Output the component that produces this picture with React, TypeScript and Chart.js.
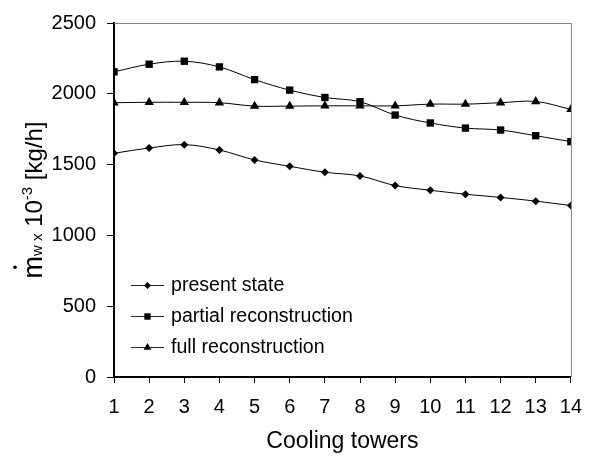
import React, { useEffect, useRef } from 'react';
import { Chart, registerables } from 'chart.js';

Chart.register(...registerables);

const towers = [1, 2, 3, 4, 5, 6, 7, 8, 9, 10, 11, 12, 13, 14];
const presentState = [1580, 1617, 1641, 1603, 1533, 1488, 1446, 1420, 1352, 1319, 1291, 1268, 1242, 1211];
const partialReconstruction = [2155, 2209, 2230, 2190, 2100, 2026, 1974, 1944, 1850, 1794, 1758, 1744, 1704, 1662];
const fullReconstruction = [1937, 1940, 1940, 1937, 1913, 1913, 1915, 1915, 1915, 1927, 1927, 1937, 1946, 1890];
const seriesLabels = ['present state', 'partial reconstruction', 'full reconstruction'];
const seriesMarkers = ['rectRot', 'rect', 'triangle'];
const yMin = 0;
const yMax = 2500;
const yStep = 500;
const xTitle = 'Cooling towers';

const FONT = "'Liberation Sans', Arial, sans-serif";

function drawMarker(ctx: CanvasRenderingContext2D, style: string, x: number, y: number, r: number) {
  ctx.beginPath();
  if (style === 'rect') {
    const s = Math.SQRT1_2 * r;
    ctx.rect(x - s, y - s, 2 * s, 2 * s);
  } else if (style === 'rectRot') {
    ctx.moveTo(x, y - r);
    ctx.lineTo(x + r, y);
    ctx.lineTo(x, y + r);
    ctx.lineTo(x - r, y);
    ctx.closePath();
  } else {
    const a = (2 * Math.PI) / 3;
    ctx.moveTo(x, y - r);
    ctx.lineTo(x + Math.sin(a) * r, y - Math.cos(a) * r);
    ctx.lineTo(x + Math.sin(2 * a) * r, y - Math.cos(2 * a) * r);
    ctx.closePath();
  }
  ctx.fill();
}

const decorPlugin = {
  id: 'decor',
  afterDraw(chart: any) {
    const ctx: CanvasRenderingContext2D = chart.ctx;
    const { left, right, top, bottom } = chart.chartArea;
    ctx.save();
    // top and right frame
    ctx.strokeStyle = '#808080';
    ctx.lineWidth = 1;
    ctx.beginPath();
    ctx.moveTo(left, top + 0.5);
    ctx.lineTo(right + 0.5, top + 0.5);
    ctx.lineTo(right + 0.5, bottom);
    ctx.stroke();

    // legend
    const rows = [285, 316, 347];
    chart.data.datasets.forEach((ds: any, i: number) => {
      const y = rows[i];
      ctx.strokeStyle = '#222';
      ctx.lineWidth = 1;
      ctx.beginPath();
      ctx.moveTo(131, y + 0.5);
      ctx.lineTo(164, y + 0.5);
      ctx.stroke();
      ctx.fillStyle = '#000';
      drawMarker(ctx, seriesMarkers[i], 147.5, y + 0.5, i === 0 ? 3.5 : 4.5);
      ctx.font = `19.6px ${FONT}`;
      ctx.textAlign = 'left';
      ctx.textBaseline = 'middle';
      ctx.fillText(ds.label, 171, y + 1);
    });

    // x title
    ctx.fillStyle = '#000';
    ctx.font = `23px ${FONT}`;
    ctx.textAlign = 'center';
    ctx.textBaseline = 'middle';
    ctx.fillText(xTitle, (left + right) / 2, 442);

    // y title (rotated)
    const big = `24px ${FONT}`;
    const mFont = `27px ${FONT}`;
    const small = `15px ${FONT}`;
    const parts = [
      { t: 'm', f: mFont, dv: 0 },
      { t: 'w x', f: small, dv: 0 },
      { t: ' 10', f: big, dv: 0 },
      { t: '-3', f: small, dv: -10 },
      { t: ' [kg/h]', f: big, dv: 0 },
    ];
    let total = 0;
    const widths = parts.map((p) => {
      ctx.font = p.f;
      const w = ctx.measureText(p.t).width;
      total += w;
      return w;
    });
    const cy = (top + bottom) / 2;
    ctx.translate(42, cy);
    ctx.rotate(-Math.PI / 2);
    ctx.textAlign = 'left';
    ctx.textBaseline = 'alphabetic';
    let u = -total / 2;
    parts.forEach((p, i) => {
      ctx.font = p.f;
      ctx.fillText(p.t, u, p.dv);
      if (i === 0) {
        ctx.beginPath();
        ctx.arc(u + widths[0] / 2, -27, 1.8, 0, Math.PI * 2);
        ctx.fill();
      }
      u += widths[i];
    });
    ctx.restore();
  },
};

export default function App() {
  const ref = useRef<HTMLCanvasElement | null>(null);
  useEffect(() => {
    document.body.style.margin = '0';
    const canvas = ref.current!;
    const mk = (label: string, values: number[], style: string, r: number) => ({
      label,
      data: towers.map((x, i) => ({ x, y: values[i] })),
      borderColor: '#000',
      backgroundColor: '#000',
      borderWidth: 1,
      pointStyle: style,
      pointRadius: r,
      pointBorderWidth: 0,
      pointBackgroundColor: '#000',
      tension: 0.35,
      fill: false,
    });
    const chart = new Chart(canvas, {
      type: 'line',
      data: {
        datasets: [
          mk(seriesLabels[0], presentState, seriesMarkers[0], 4),
          mk(seriesLabels[1], partialReconstruction, seriesMarkers[1], 5.2),
          mk(seriesLabels[2], fullReconstruction, seriesMarkers[2], 5.4),
        ],
      },
      options: {
        animation: false,
        responsive: false,
        devicePixelRatio: 1,
        layout: { padding: { left: 0, right: 21, top: 22, bottom: 0 } },
        plugins: { legend: { display: false }, tooltip: { enabled: false } },
        scales: {
          x: {
            type: 'linear',
            min: 1,
            max: 14,
            afterFit: (s: any) => { s.height = 80; },
            ticks: {
              stepSize: 1,
              color: '#000',
              font: { family: FONT, size: 20 },
              padding: 12,
              callback: (v: any) => String(v),
            },
            grid: { display: true, drawOnChartArea: false, drawTicks: true, tickLength: 6, color: '#000', lineWidth: 1 },
            border: { display: true, color: '#000', width: 2 },
          },
          y: {
            min: yMin,
            max: yMax,
            afterFit: (s: any) => { s.width = 114; },
            ticks: {
              stepSize: yStep,
              color: '#000',
              font: { family: FONT, size: 20 },
              padding: 11,
              callback: (v: any) => String(v),
            },
            grid: { display: true, drawOnChartArea: false, drawTicks: true, tickLength: 7, color: '#000', lineWidth: 1 },
            border: { display: true, color: '#000', width: 2 },
          },
        },
      },
      plugins: [decorPlugin],
    } as any);
    return () => chart.destroy();
  }, []);
  return <canvas ref={ref} width={594} height={457} style={{ display: 'block', width: 594, height: 457 }} />;
}
